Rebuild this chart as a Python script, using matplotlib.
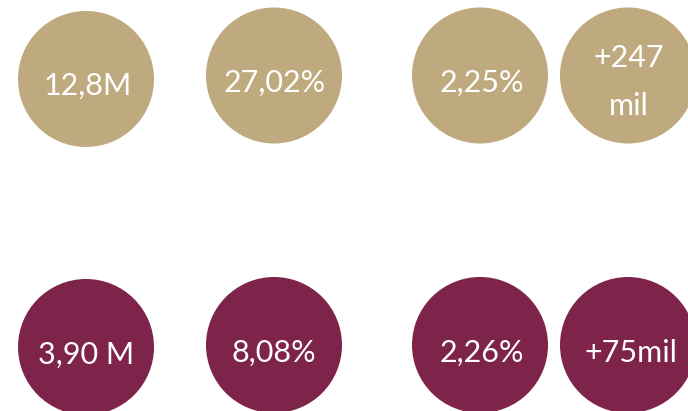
import matplotlib
matplotlib.use("Agg")
import matplotlib.pyplot as plt
from matplotlib.patches import Circle

# Data
row_top_labels = ["12,8M", "27,02%", "2,25%", "+247\nmil"]
row_bottom_labels = ["3,90 M", "8,08%", "2,26%", "+75mil"]
row_colors = ["#BEAA7E", "#7E2349"]

# Layout (pixels)
W, H = 688, 411
col_x = [86, 274, 480, 628]
row_y = [[79, 75.5, 75.5, 75.5], [347, 345, 345, 345]]
radius = 68
baselines = [[95, 92, 92, (67, 115)], [364, 362, 362, 362]]
text_x = [[87.5, 275, 482, 629], [86, 274, 482, 631]]

fig = plt.figure(figsize=(W / 100, H / 100), dpi=100)
ax = fig.add_axes([0, 0, 1, 1])
ax.set_xlim(0, W)
ax.set_ylim(H, 0)
ax.set_aspect("equal")
ax.axis("off")

font = dict(family=["Lato", "DejaVu Sans"], size=22, color="white",
            ha="center", va="baseline")

for r, labels in enumerate([row_top_labels, row_bottom_labels]):
    for c, lab in enumerate(labels):
        ax.add_patch(Circle((col_x[c], row_y[r][c]), radius,
                            facecolor=row_colors[r], edgecolor="none"))
        bl = baselines[r][c]
        if isinstance(bl, tuple):
            for line, b in zip(lab.split("\n"), bl):
                ax.text(text_x[r][c], b, line, **font)
        else:
            ax.text(text_x[r][c], bl, lab, **font)

fig.savefig("out.png", dpi=100)
